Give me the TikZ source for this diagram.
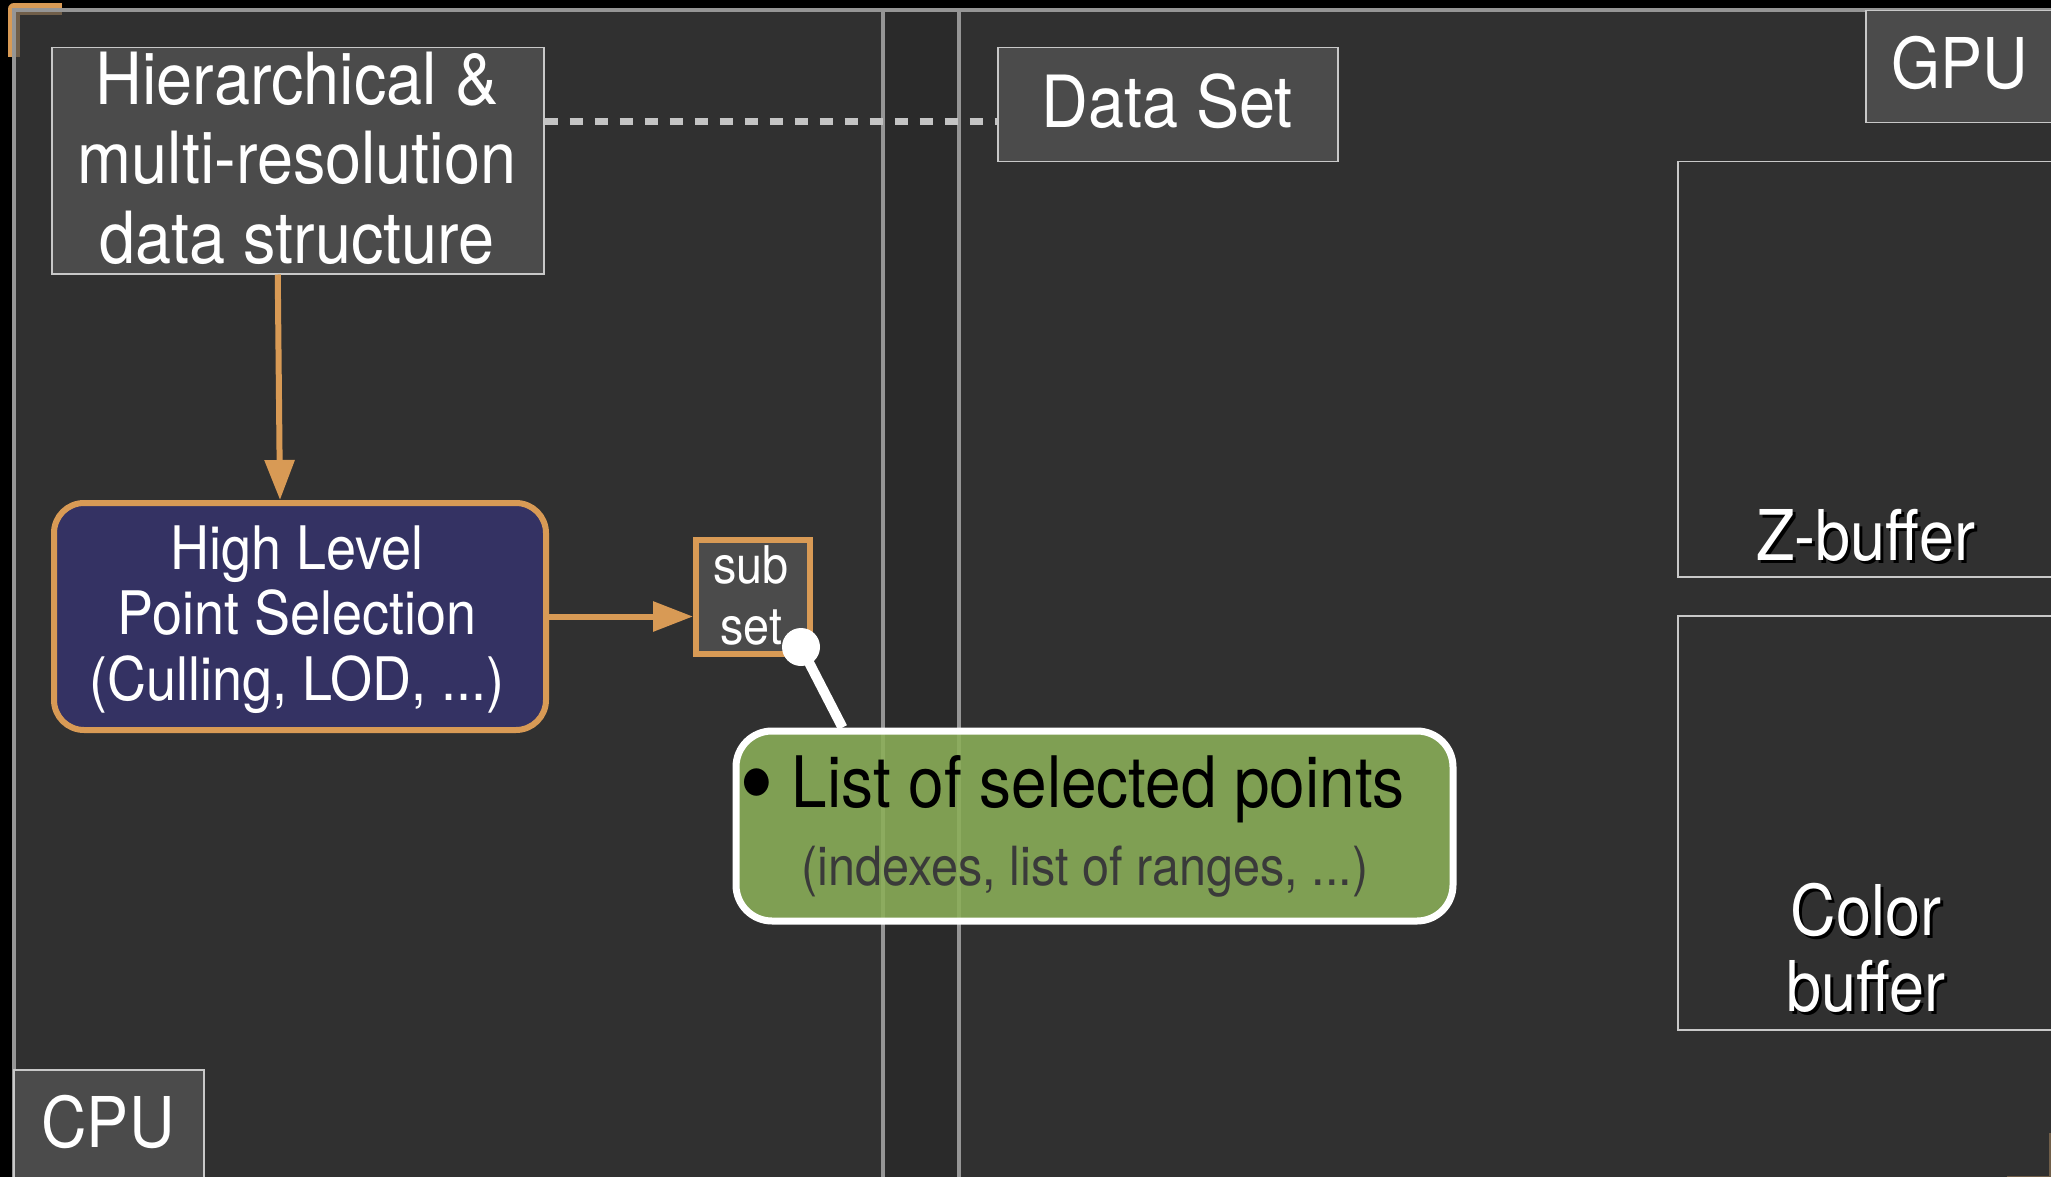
\documentclass[tikz,border=0pt]{standalone}
\usepackage{graphicx}
\usepackage{fontspec}
\setmainfont{TeX Gyre Heros}[FakeStretch=0.9]
\usetikzlibrary{arrows.meta,calc}
\definecolor{panelc}{HTML}{454545}
\definecolor{gapc}{HTML}{3D3D3D}
\definecolor{panelline}{HTML}{959595}
\definecolor{labelfill}{HTML}{4B4B4B}
\definecolor{labelline}{HTML}{C8C8C8}
\definecolor{orng}{HTML}{D89A55}
\definecolor{hlblue}{HTML}{343263}
\definecolor{grn}{HTML}{8BAF58}
\definecolor{dashc}{HTML}{C4C4C4}
\definecolor{subtxt}{HTML}{3A3A3A}
\newcommand\myfs[2]{\fontsize{#1}{#2}\selectfont}
\newcommand\shadtxt[1]{\makebox[0pt][l]{\hspace{3pt}\raisebox{-3pt}{\textcolor{black}{#1}}}#1}
\newcommand\bigbullet{\raisebox{-13pt}{\scalebox{1.55}{\textbullet}}}
\begin{document}
\begin{tikzpicture}[x=1pt,y=-1pt,
  lbl/.style={draw=labelline, line width=1.5pt, fill=labelfill, inner sep=0pt, anchor=north west},
  bufbox/.style={draw=labelline, line width=1.5pt, inner sep=0pt, anchor=north west},
  txt/.style={text=white, inner sep=0pt, anchor=base},
  panel/.style={draw=panelline, line width=4pt, fill opacity=0.7},
  oarrow/.style={draw=orng, line width=6pt, -{Triangle[width=29pt,length=40pt]}},
  corner/.style={draw=orng, line width=12pt, line join=round}]
\useasboundingbox (0,0) rectangle (2051,1177);
\clip (0,0) rectangle (2051,1177);
\fill[black] (0,0) rectangle (2051,1177);
% corner marks (under the panels)
\draw[corner] (14,57) -- (14,9) -- (62,9);
\draw[corner] (2055,1133) -- (2055,1182) -- (2007,1182);
% panels
\fill[gapc, fill opacity=0.7] (883,10) rectangle (959,1200);
\draw[panel, fill=panelc] (14,10) rectangle (883,1200);
\draw[panel, fill=panelc] (959,10) rectangle (2080,1200);
\draw[draw=panelline, line width=4pt] (883,10) -- (959,10);
% label boxes
\node[lbl, minimum width=492pt, minimum height=226pt] (hier) at (51,47) {};
\node[lbl, minimum width=340pt, minimum height=114pt] (dset) at (997,47) {};
\node[lbl, minimum width=200pt, minimum height=112pt] (gpu) at (1865,10) {};
\node[lbl, minimum width=190pt, minimum height=120pt] (cpu) at (13,1069) {};
\node[bufbox, minimum width=450pt, minimum height=415pt] (zbuf) at (1677,161) {};
\node[bufbox, minimum width=450pt, minimum height=414pt] (cbuf) at (1677,615) {};
% process boxes
\node[draw=orng, line width=6pt, fill=hlblue, rounded corners=30pt, inner sep=0pt, anchor=north west,
      minimum width=492pt, minimum height=227pt] (hl) at (51,500) {};
\node[draw=orng, line width=6pt, fill=labelfill, inner sep=0pt, anchor=north west,
      minimum width=114pt, minimum height=114pt] (sub) at (693,537) {};
% connectors
\draw[dashc, line width=7pt, dash pattern=on 13.5pt off 11.5pt]
  ($(hier.north east)+(0,75)$) -- ($(dset.north west)+(0,75)$);
\draw[oarrow] ($(hier.south)+(-20,0)$) -- ($(hl.north)+(-20,0)$);
\draw[oarrow] (hl.east) -- (hl.east -| sub.west);
% callout
\node[circle, fill=white, minimum size=38pt, inner sep=0pt] (dot) at (801,647) {};
\coordinate (calltip) at (842.5,727.5);
\draw[white, line width=10pt] (dot.center) -- (calltip);
\node[draw=white, line width=7pt, fill=grn, fill opacity=0.88, rounded corners=36pt, inner sep=0pt,
      anchor=north west, minimum width=717pt, minimum height=190pt] (green) at (732.5,727.5) {};
% texts
\node[txt, font=\myfs{72}{80}] (hiera) at (297,105) {Hierarchical \&};
\node[txt, font=\myfs{72}{80}] (hierb) at (297,184) {multi-resolution};
\node[txt, font=\myfs{72}{80}] (hierc) at (297,264) {data structure};
\node[txt, font=\myfs{72}{80}] (dsett) at (1167,128) {Data Set};
\node[txt, font=\myfs{70}{80}] (gput) at (1960,89) {GPU};
\node[txt, font=\myfs{70}{80}] (cput) at (108,1147) {CPU};
\node[txt, font=\myfs{70}{80}] (zbuft) at (1866,560) {\shadtxt{Z-buffer}};
\node[txt, font=\myfs{70}{80}] (cbufa) at (1866,935) {\shadtxt{Color}};
\node[txt, font=\myfs{70}{80}] (cbufb) at (1866,1011) {\shadtxt{buffer}};
\node[txt, font=\myfs{60}{66}] (hla) at (297,569) {High Level};
\node[txt, font=\myfs{60}{66}] (hlb) at (297,634) {Point Selection};
\node[txt, font=\myfs{60}{66}] (hlc) at (297,700) {(Culling, LOD, ...)};
\node[txt, font=\myfs{52}{60}] (suba) at (751,583) {sub};
\node[txt, font=\myfs{52}{60}] (subb) at (751,644) {set};
\node[txt, text=black, font=\myfs{71}{80}] (greena) at (1072,807) {\bigbullet\ List of selected points};
\node[txt, text=subtxt, font=\myfs{54}{60}] (greenb) at (1085,885) {(indexes, list of ranges, ...)};
\end{tikzpicture}
\end{document}
